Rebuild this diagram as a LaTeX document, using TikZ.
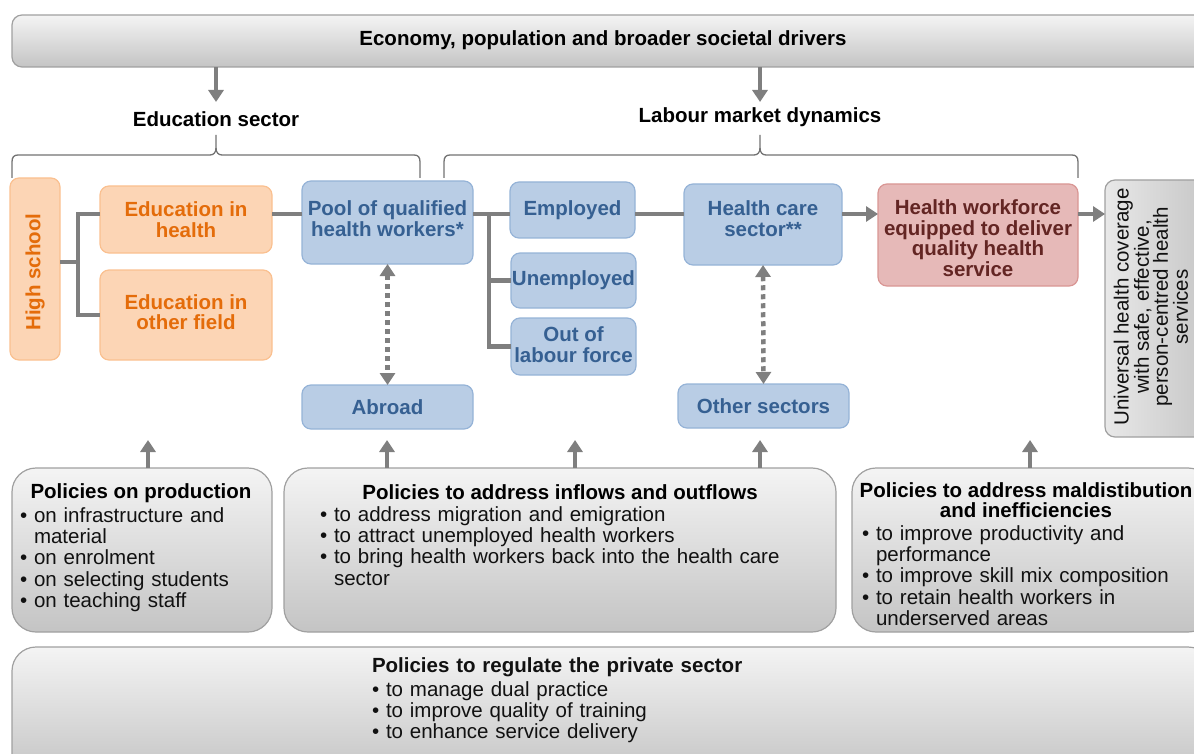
\documentclass[tikz,border=0pt]{standalone}
\usepackage{fontspec}
\setmainfont{Liberation Sans}
\usetikzlibrary{arrows.meta}
\definecolor{connc}{HTML}{7F7F7F}
\definecolor{bluef}{HTML}{B9CDE5}
\definecolor{blueb}{HTML}{95B3D7}
\definecolor{bluet}{HTML}{366092}
\definecolor{orf}{HTML}{FCD5B5}
\definecolor{orb}{HTML}{FAC090}
\definecolor{ort}{HTML}{E46C0A}
\definecolor{redf}{HTML}{E6B9B8}
\definecolor{redb}{HTML}{D99694}
\definecolor{redt}{HTML}{632523}
\definecolor{grayb}{HTML}{A0A0A0}
\definecolor{gtop}{HTML}{F4F4F4}
\definecolor{gbot}{HTML}{C4C4C4}
\definecolor{txt}{HTML}{111111}
\newlength\bulw
\newcommand\bitem{\par\noindent\textbullet\ }
\newcommand\bnl{\newline\settowidth{\bulw}{\textbullet\ }\hspace*{\bulw}}
\tikzset{
  every node/.style={inner sep=0pt, outer sep=0pt},
  bfont/.style={font=\bfseries\fontsize{20.5}{20.5}\selectfont},
  rfont/.style={font=\fontsize{20.5}{21.3}\selectfont},
  box/.style={draw, line width=1.2pt, rounded corners=9pt, anchor=north west, align=center, bfont},
  bluebox/.style={box, draw=blueb, fill=bluef, text=bluet},
  orbox/.style={box, draw=orb, fill=orf, text=ort},
  redbox/.style={box, draw=redb, fill=redf, text=redt},
  graybox/.style={draw=grayb, line width=1.2pt, rounded corners=24pt, anchor=north west, top color=gtop, bottom color=gbot},
  conn/.style={draw=connc, line width=4.5pt},
  arr/.style={conn, -{Triangle[width=15pt,length=12pt]}},
  dotarrow/.style={draw=connc, line width=4.5pt, dash pattern=on 5pt off 4pt,
     {Triangle[width=15pt,length=12pt]}-{Triangle[width=15pt,length=12pt]}},
  brace/.style={draw=connc!90!black, line width=1.3pt},
  title/.style={bfont, text=black},
  bullets/.style={rfont, text=txt, anchor=north west, align=left},
}
\begin{document}
\begin{tikzpicture}[x=1pt,y=-1pt]
\useasboundingbox (0,0) rectangle (1194,754);

% top bar
\node[graybox, rounded corners=10pt, minimum width=1200pt, minimum height=52pt] (top) at (12,15) {};
\node[title] (toptext) at (603,40) {Economy, population and broader societal drivers};

% section labels
\node[title] (edu) at (216,119) {Education sector};
\node[title] (lab) at (760,117) {Labour market dynamics};
\coordinate (d1) at (216,102);
\coordinate (d2) at (760,102);
\draw[arr] (top.south -| d1) -- (d1);
\draw[arr] (top.south -| d2) -- (d2);

% braces
\draw[brace] (12,178) -- (12,162) .. controls (12,157) and (14,155) .. (18,155) -- (210,155)
  .. controls (214,155) and (216,152) .. (216,148) -- (216,135);
\draw[brace] (216,148) .. controls (216,152) and (218,155) .. (222,155) -- (414,155)
  .. controls (418,155) and (420,157) .. (420,162) -- (420,178);
\draw[brace] (444,178) -- (444,162) .. controls (444,157) and (446,155) .. (450,155) -- (754,155)
  .. controls (758,155) and (760,152) .. (760,148) -- (760,135);
\draw[brace] (760,148) .. controls (760,152) and (762,155) .. (766,155) -- (1072,155)
  .. controls (1076,155) and (1078,157) .. (1078,162) -- (1078,178);

% education boxes
\node[orbox, minimum width=50pt, minimum height=182pt] (hs) at (10,178) {};
\node[bfont, text=ort, rotate=90] (hstext) at ([yshift=-3pt]hs.center) {High school};
\node[orbox, minimum width=172pt, minimum height=67pt] (eh) at (100,186) {Education in\\health};
\node[orbox, minimum width=172pt, minimum height=90pt] (eo) at (100,270) {};
\node[bfont, text=ort, align=center] (eotext) at ([yshift=3pt]eo.center) {Education in\\other field};

% labour market boxes
\node[bluebox, minimum width=171pt, minimum height=83pt] (pool) at (302,181) {};
\node[bfont, text=bluet, align=center] (pooltext) at ([yshift=4pt]pool.center) {Pool of qualified\\health workers*};
\node[bluebox, minimum width=171pt, minimum height=44pt] (abroad) at (302,385) {Abroad};
\node[bluebox, minimum width=125pt, minimum height=56pt] (emp) at (510,182) {Employed};
\node[bluebox, minimum width=125pt, minimum height=55pt] (unemp) at (511,253) {Unemployed};
\node[bluebox, minimum width=125pt, minimum height=57pt] (olf) at (511,318) {};
\node[bfont, text=bluet, align=center] (olftext) at ([yshift=2pt]olf.center) {Out of\\labour force};
\node[bluebox, minimum width=158pt, minimum height=81pt] (hc) at (684,184) {};
\node[bfont, text=bluet, align=center] (hctext) at ([yshift=6pt]hc.center) {Health care\\sector**};
\node[bluebox, minimum width=171pt, minimum height=44pt] (oth) at (678,384) {Other sectors};
\node[redbox, minimum width=200pt, minimum height=102pt] (hw) at (878,184) {};
\node[bfont, text=redt, align=center] (hwtext) at ([yshift=-3pt]hw.center) {Health workforce\\equipped to deliver\\quality health\\service};

% universal coverage
\node[draw=grayb, line width=1.2pt, rounded corners=10pt, anchor=north west, left color=gtop!90!gray, right color=gbot,
      minimum width=110pt, minimum height=257pt] (uhc) at (1105,180) {};
\node[text=txt, rotate=90, align=center, font=\fontsize{20.5}{19}\selectfont] (uhctext) at (1151,307)
  {Universal health coverage\\with safe, effective,\\person-centred health\\services};

% connectors
\coordinate (r) at (0,214);
\coordinate (ej) at (78,262);
\coordinate (lj) at (489,214);
\draw[conn] (ej) -- (ej -| hs.east);
\draw[conn, line join=miter] (eh.west |- r) -| (ej) |- (eo.west);
\draw[conn] (eh.east |- r) -- (pool.west |- r);
\draw[conn] (pool.east |- r) -- (emp.west |- r);
\draw[conn, line join=miter] (lj) |- (olf.west);
\draw[conn] (lj |- unemp.west) -- (unemp.west);
\draw[conn] (emp.east |- r) -- (hc.west |- r);
\draw[arr] (hc.east |- r) -- (hw.west |- r);
\draw[arr] (hw.east |- r) -- (uhc.west |- r);
\draw[dotarrow] (pool.south) -- (abroad.north);
\draw[dotarrow] (hc.south) -- (oth.north);

% policy boxes
\node[graybox, minimum width=260pt, minimum height=164pt] (prod) at (12,468) {};
\node[graybox, minimum width=552pt, minimum height=164pt] (infl) at (284,468) {};
\node[graybox, minimum width=360pt, minimum height=164pt] (mald) at (852,468) {};
\node[graybox, minimum width=1200pt, minimum height=130pt] (priv) at (12,647) {};

\coordinate (u1) at (148,440);
\coordinate (u2) at (387,440);
\coordinate (u3) at (575,440);
\coordinate (u4) at (760,440);
\coordinate (u5) at (1030,440);
\draw[arr] (prod.north -| u1) -- (u1);
\draw[arr] (infl.north -| u2) -- (u2);
\draw[arr] (infl.north -| u3) -- (u3);
\draw[arr] (infl.north -| u4) -- (u4);
\draw[arr] (mald.north -| u5) -- (u5);

\node[title] (prodt) at (141,493) {Policies on production};
\node[bullets, text width=250pt] (prodb) at (20,501) {%
  \bitem on infrastructure and\bnl material
  \bitem on enrolment
  \bitem on selecting students
  \bitem on teaching staff};

\node[title] (inflt) at (560,492) {Policies to address inflows and outflows};
\node[bullets, text width=500pt] (inflb) at (320,500) {%
  \bitem to address migration and emigration
  \bitem to attract unemployed health workers
  \bitem to bring health workers back into the health care\bnl sector};

\node[title, align=center] (maldt) at (1026,500) {Policies to address maldistibution\\and inefficiencies};
\node[bullets, text width=330pt] (maldb) at (862,519) {%
  \bitem to improve productivity and\bnl performance
  \bitem to improve skill mix composition
  \bitem to retain health workers in\bnl underserved areas};

\node[bullets, text width=600pt] (privb) at (372,658) {%
  {\bfseries Policies to regulate the private sector}\par\vspace{2pt}
  \bitem to manage dual practice
  \bitem to improve quality of training
  \bitem to enhance service delivery};
\end{tikzpicture}
\end{document}
